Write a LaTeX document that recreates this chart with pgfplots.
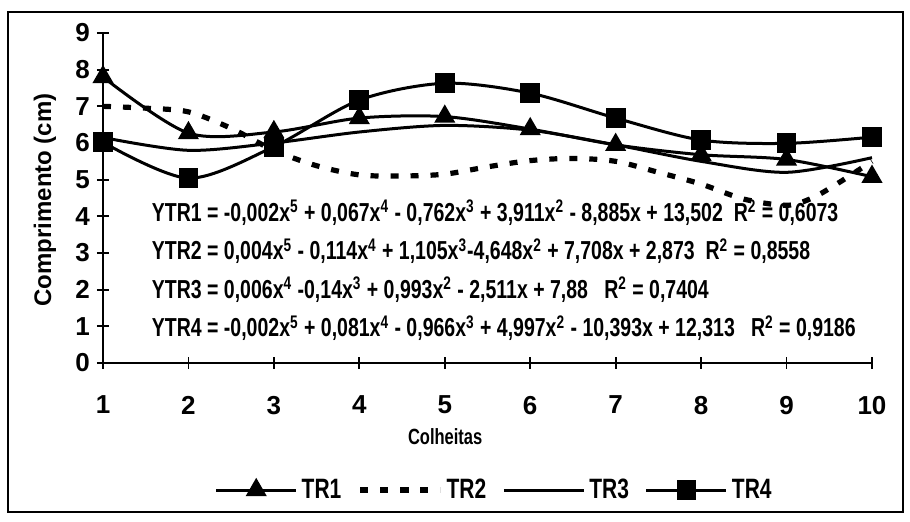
\documentclass[border=0pt]{standalone}
\usepackage{pgfplots}
\pgfplotsset{compat=1.18}
\usepackage{graphicx}
\usepackage{fontspec}
\setmainfont{Liberation Sans}
\newfontfamily\eqfont[FakeStretch=0.75]{Liberation Sans}

\newcommand{\sq}[1]{\textsuperscript{#1}}

\begin{document}
\begin{tikzpicture}
\begin{axis}[
    scale only axis, width=384.5pt, height=165pt,
    xmin=1, xmax=10, ymin=0, ymax=9,
    axis x line=bottom, axis y line=left,
    axis line style={-, line width=0.9pt},
    xtick={1,...,10}, ytick={0,...,9},
    tick align=center, major tick length=6pt,
    tick style={black, line width=0.9pt},
    ticklabel style={font=\fontsize{13}{15}\selectfont\bfseries},
    /pgf/number format/assume math mode=true,
    xticklabel style={yshift=-10pt},
    xlabel={Colheitas}, ylabel={Comprimento (cm)},
    every axis x label/.style={at={(rel axis cs:0.445,-0.224)}, anchor=center,
        font=\eqfont\fontsize{11}{13}\selectfont\bfseries},
    every axis y label/.style={at={(rel axis cs:-0.0754,0.494)}, anchor=center,
        rotate=90, font=\fontsize{12}{14}\selectfont\bfseries},
    clip=false,
    legend columns=4,
    legend style={at={(0.51,-0.385)}, anchor=center, draw=none,
        font=\eqfont\fontsize{14}{16}\selectfont\bfseries,
        /tikz/every even column/.append style={column sep=6pt}},
    legend image code/.code={%
        \draw[mark repeat=2,mark phase=2,#1] plot coordinates {(0pt,0pt) (20pt,0pt) (40pt,0pt)};},
]
% TR1
\addplot[black, line width=1.5pt, smooth, mark=triangle*, mark size=4.6pt, mark options={solid}]
    coordinates {(1,7.8) (2,6.27) (3,6.3) (4,6.68) (5,6.72) (6,6.38) (7,5.95) (8,5.68) (9,5.55) (10,5.08)};
% TR2 (trend, dashed)
\addplot[black, line width=2.6pt, smooth, dash pattern=on 4pt off 6pt]
    coordinates {(1,7.0) (1.5,6.95) (2,6.85) (2.5,6.4) (3,5.8) (3.5,5.38) (4,5.13) (4.5,5.1) (5,5.15)
                 (5.5,5.35) (6,5.52) (6.5,5.58) (7,5.5) (7.5,5.2) (8,4.88) (8.5,4.47) (9,4.3)
                 (9.3,4.5) (9.6,4.9) (10,5.5)};
% TR3 (trend, solid)
\addplot[black, line width=1.5pt, smooth]
    coordinates {(1,6.15) (2,5.8) (3,6.0) (4,6.3) (5,6.48) (6,6.35) (7,5.95) (8,5.5) (9,5.2) (10,5.6)};
% TR4
\addplot[black, line width=1.5pt, smooth, mark=square*, mark size=4.2pt, mark options={solid}]
    coordinates {(1,6.02) (2,5.04) (3,5.9) (4,7.17) (5,7.63) (6,7.36) (7,6.68) (8,6.08) (9,5.99) (10,6.16)};
\legend{TR1, TR2, TR3, TR4}

\begin{scope}[font=\eqfont\fontsize{13}{15}\selectfont\bfseries]
\node[anchor=west] at (axis cs:1.49,4.1)
    {YTR1 = -0,002x\sq{5} + 0,067x\sq{4} - 0,762x\sq{3} + 3,911x\sq{2} - 8,885x + 13,502\ \ R\sq{2} = 0,6073};
\node[anchor=west] at (axis cs:1.49,3.05)
    {YTR2 = 0,004x\sq{5} - 0,114x\sq{4} + 1,105x\sq{3}-4,648x\sq{2} + 7,708x + 2,873\ \ R\sq{2} = 0,8558};
\node[anchor=west] at (axis cs:1.49,2.0)
    {YTR3 = 0,006x\sq{4} -0,14x\sq{3} + 0,993x\sq{2} - 2,511x + 7,88\ \ \ R\sq{2} = 0,7404};
\node[anchor=west] at (axis cs:1.49,0.95)
    {YTR4 = -0,002x\sq{5} + 0,081x\sq{4} - 0,966x\sq{3} + 4,997x\sq{2} - 10,393x + 12,313\ \ \ R\sq{2} = 0,9186};
\end{scope}
\end{axis}
% frame, in pixel units of the reference
\begin{scope}[x=0.5pt, y=0.5pt, shift={(-103,363)}, yscale=-1]
  \path (0,0) rectangle (910,522);
  \draw[line width=1pt] (8,12) rectangle (903,512);
\end{scope}
\end{tikzpicture}
\end{document}
